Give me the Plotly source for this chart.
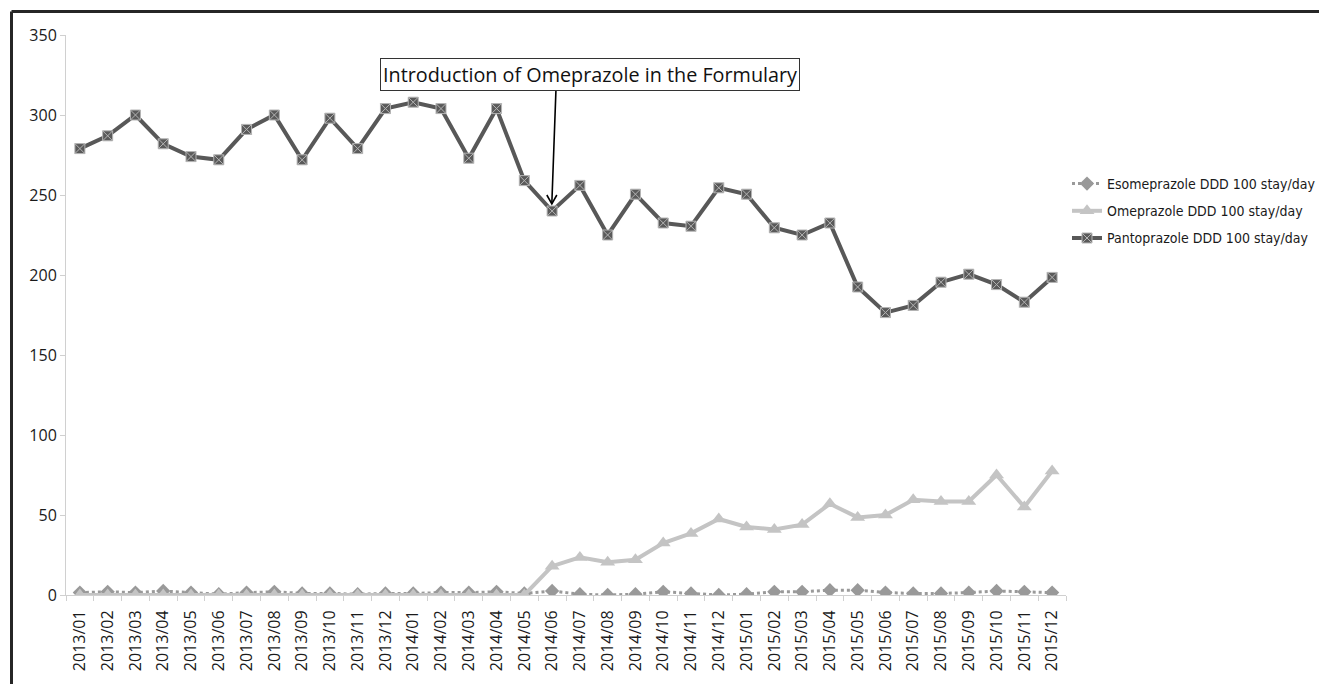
import plotly.graph_objects as go

# Monthly consumption of proton pump inhibitors (DDD per 100 stays/day)
months = [
    "2013/01", "2013/02", "2013/03", "2013/04", "2013/05", "2013/06",
    "2013/07", "2013/08", "2013/09", "2013/10", "2013/11", "2013/12",
    "2014/01", "2014/02", "2014/03", "2014/04", "2014/05", "2014/06",
    "2014/07", "2014/08", "2014/09", "2014/10", "2014/11", "2014/12",
    "2015/01", "2015/02", "2015/03", "2015/04", "2015/05", "2015/06",
    "2015/07", "2015/08", "2015/09", "2015/10", "2015/11", "2015/12",
]

esomeprazole = [
    1.5, 2, 1.5, 2.5, 1.5, 0.5, 1.5, 2, 1, 1, 0.5, 1,
    1, 1.5, 1.5, 2, 1, 2.5, 0.5, 0, 0.5, 2, 1, 0,
    0.5, 2, 2, 3, 3, 1.5, 1, 1, 1.5, 2.5, 2, 1.5,
]

omeprazole = [
    0, 0, 0, 0, 0, 0, 0, 0, 0, 0, 0, 0,
    0, 0, 0, 0, 0, 18, 23.5, 20.5, 22, 32.5, 38.5, 47.5,
    42.5, 41, 44, 57, 48.5, 50, 59.5, 58.5, 58.5, 75, 55, 77.5,
]

pantoprazole = [
    279, 287, 300, 282, 274, 272, 291, 300, 272, 298, 279, 304,
    308, 304, 273, 304, 259, 240, 256, 225, 250.5, 232.5, 230.5, 254.5,
    250.5, 229.5, 225, 232.5, 192.5, 176.5, 181, 195.5, 200.5, 194, 183, 198.5,
]

series_names = [
    "Esomeprazole DDD 100 stay/day",
    "Omeprazole DDD 100 stay/day",
    "Pantoprazole DDD 100 stay/day",
]

annotation_text = "Introduction of Omeprazole in the Formulary"
annotated_month = "2014/06"

x_idx = list(range(len(months)))
W, H = 1319, 684
M_L, M_R, M_T, M_B = 66, 253, 35, 89

fig = go.Figure()

fig.add_trace(go.Scatter(
    x=x_idx, y=esomeprazole, name=series_names[0], mode="lines+markers",
    legendgroup="a",
    line=dict(color="#9a9a9a", width=3, dash="dot"),
    marker=dict(symbol="diamond", size=11, color="#999999"),
))
fig.add_trace(go.Scatter(
    x=x_idx, y=omeprazole, name=series_names[1], mode="lines+markers",
    legendgroup="b",
    line=dict(color="#c4c4c4", width=4),
    marker=dict(symbol="triangle-up", size=13, color="#c4c4c4"),
))
fig.add_trace(go.Scatter(
    x=x_idx, y=pantoprazole, name=series_names[2], mode="lines+markers",
    legendgroup="c",
    line=dict(color="#585858", width=4),
    marker=dict(symbol="square-x", size=10, color="#5a5a5a",
                line=dict(color="#b4b4b4", width=1)),
))

axis_grey = "#d0d0d0"
tick_font = dict(family="Open Sans, Noto Sans, sans-serif", size=16, color="#1a1a1a")

fig.update_xaxes(
    range=[-0.5, len(months) - 0.5],
    tickmode="array", tickvals=x_idx, ticktext=months,
    tickangle=-90, tickfont=tick_font,
    showline=True, linecolor=axis_grey, linewidth=1,
    ticks="outside", ticklen=8, tickcolor="rgba(0,0,0,0)",
    minor=dict(tickmode="array",
               tickvals=[i - 0.5 for i in range(len(months) + 1)],
               ticks="outside", ticklen=5, tickcolor=axis_grey, showgrid=False),
    showgrid=False, zeroline=False,
)
fig.update_yaxes(
    range=[0, 350], tickmode="linear", tick0=0, dtick=50,
    tickfont=tick_font,
    showline=True, linecolor=axis_grey, linewidth=1,
    ticks="outside", ticklen=5, tickcolor=axis_grey,
    showgrid=False, zeroline=False,
)

# Arrow pointing at the month the formulary changed
i0 = months.index(annotated_month)
tip_y = pantoprazole[i0] + 4.5
fig.add_annotation(
    x=i0 - 0.01, y=tip_y, xref="x", yref="y",
    ax=i0 + 0.14, ay=316.5, axref="x", ayref="y",
    text="", showarrow=True, arrowhead=0, arrowwidth=1.6, arrowcolor="#000000",
    standoff=0,
)
fig.add_shape(
    type="path", xref="x", yref="y",
    path=f"M {i0 - 0.19},{tip_y + 5.5} L {i0 - 0.01},{tip_y} L {i0 + 0.17},{tip_y + 5.5}",
    line=dict(color="#000000", width=1.6),
)

pw, ph = W - M_L - M_R, H - M_T - M_B

# Label box
fig.add_annotation(
    x=(589.5 - M_L) / pw, y=(H - M_B - 74.5) / ph,
    xref="paper", yref="paper", xanchor="center", yanchor="middle",
    text=annotation_text, showarrow=False,
    font=dict(family="Open Sans, Noto Sans, sans-serif", size=19.8, color="#111111"),
    bgcolor="#ffffff", bordercolor="#333333", borderwidth=1, borderpad=2,
)

# Outer frame (left and top edges)
fx = (11.5 - M_L) / pw
fy = (H - M_B - 11.5) / ph
fig.add_shape(type="line", xref="paper", yref="paper",
              x0=fx, x1=fx, y0=-M_B / ph - 0.01, y1=fy,
              line=dict(color="#262626", width=3))
fig.add_shape(type="line", xref="paper", yref="paper",
              x0=fx, x1=(W - M_L) / pw + 0.01, y0=fy, y1=fy,
              line=dict(color="#262626", width=3))

fig.update_layout(
    width=W, height=H,
    margin=dict(l=M_L, r=M_R, t=M_T, b=M_B, pad=0, autoexpand=False),
    paper_bgcolor="#ffffff", plot_bgcolor="#ffffff",
    showlegend=True,
    legend=dict(
        x=1.001, y=(H - M_B - 168) / ph, xanchor="left", yanchor="top",
        traceorder="grouped", tracegroupgap=6,
        font=dict(family="Liberation Sans Narrow, DejaVu Sans Condensed, Open Sans, sans-serif",
                  size=14, color="#1a1a1a"),
        bgcolor="rgba(0,0,0,0)", itemwidth=30,
    ),
)

fig.write_html("out.html")
